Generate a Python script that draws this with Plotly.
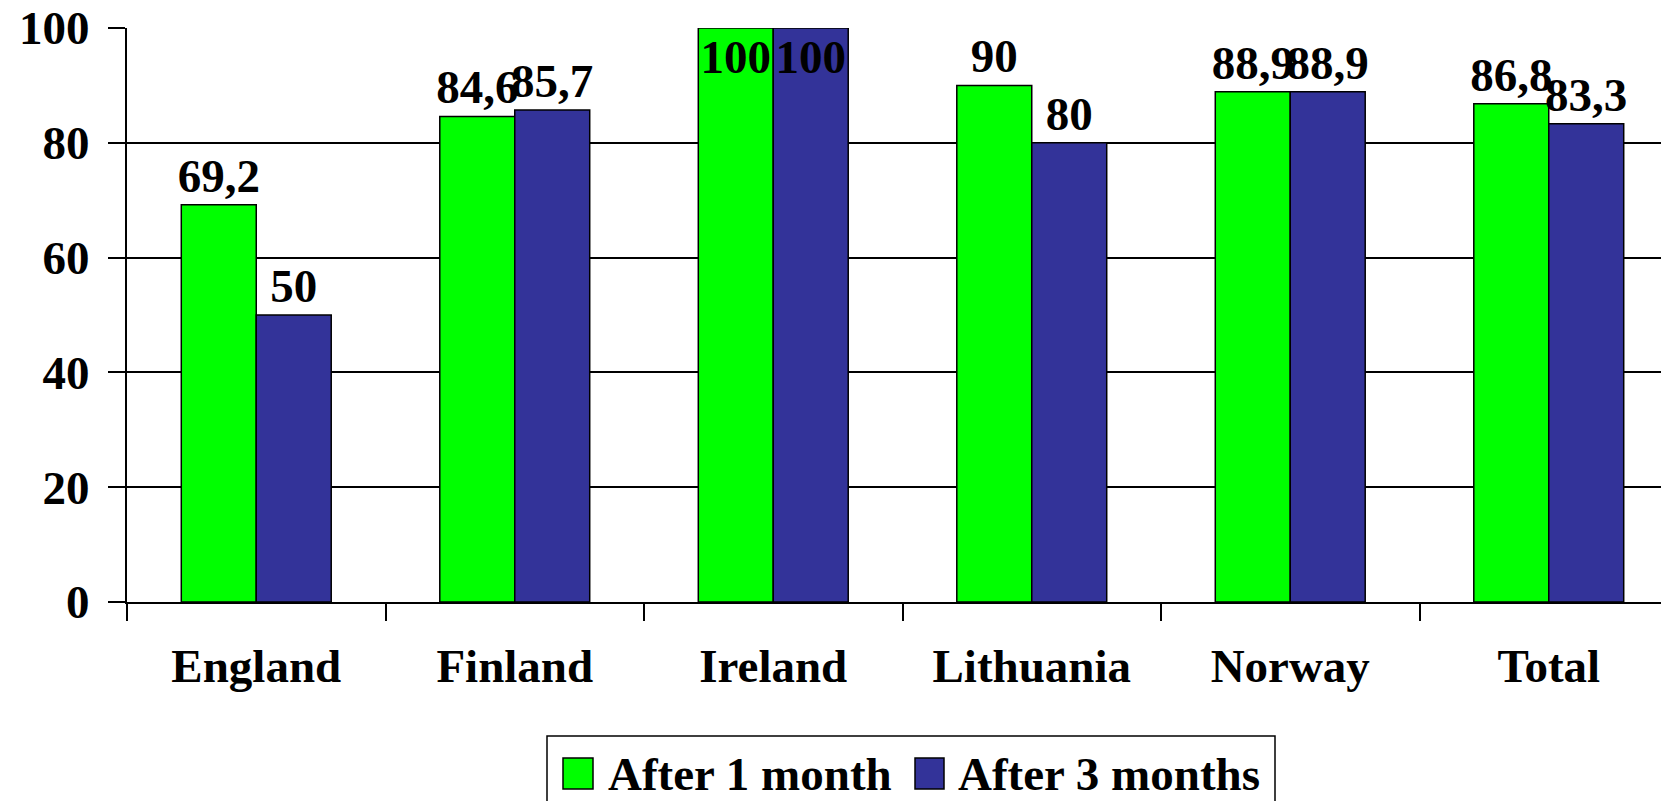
import plotly.graph_objects as go

categories = ["England", "Finland", "Ireland", "Lithuania", "Norway", "Total"]
after_1_month = [69.2, 84.6, 100, 90, 88.9, 86.8]
after_3_months = [50, 85.7, 100, 80, 88.9, 83.3]
series_names = ["After 1 month", "After 3 months"]
y_ticks = [0, 20, 40, 60, 80, 100]

GREEN = "#00FF00"
BLUE = "#333399"
FONT = "Liberation Serif"
FS = 47

W, H = 1661, 801
L, R, T, B = 127, 0, 28, 199
pw = W - L - R
ph = H - T - B
CAT_W = 258.5  # pixel width of one category in the reference (plot extends past the right edge)


def px_x(x):
    return (x - L) / pw


def px_y(y):
    return (H - B - y) / ph


def fmt(v):
    return ("%g" % v).replace(".", ",")


def positions(vals):
    return ["inside" if v >= 100 else "outside" for v in vals]


fig = go.Figure()
for name, vals, col in [(series_names[0], after_1_month, GREEN), (series_names[1], after_3_months, BLUE)]:
    fig.add_trace(go.Bar(
        x=categories, y=vals, name=name,
        marker=dict(color=col, line=dict(color="black", width=1.5)),
        text=[fmt(v) for v in vals],
        textposition=positions(vals),
        insidetextanchor="end",
        textangle=0,
        constraintext="none",
        textfont=dict(family=FONT, size=FS, color="black", weight="bold"),
        insidetextfont=dict(family=FONT, size=FS, color="black", weight="bold"),
        outsidetextfont=dict(family=FONT, size=FS, color="black", weight="bold"),
        cliponaxis=False,
        showlegend=False,
    ))

# manual legend (large swatches)
shapes = [
    dict(type="rect", xref="paper", yref="paper",
         x0=px_x(547), x1=px_x(1275), y0=px_y(815), y1=px_y(736),
         line=dict(color="black", width=1.5), fillcolor="white", layer="above"),
    dict(type="rect", xref="paper", yref="paper",
         x0=px_x(563), x1=px_x(593), y0=px_y(789), y1=px_y(758),
         line=dict(color="black", width=1.5), fillcolor=GREEN, layer="above"),
    dict(type="rect", xref="paper", yref="paper",
         x0=px_x(915), x1=px_x(944), y0=px_y(789), y1=px_y(758),
         line=dict(color="black", width=1.5), fillcolor=BLUE, layer="above"),
]
annotations = [
    dict(text=series_names[0], xref="paper", yref="paper", x=px_x(606), y=px_y(774),
         xanchor="left", yanchor="middle", showarrow=False,
         font=dict(family=FONT, size=FS, color="black", weight="bold")),
    dict(text=series_names[1], xref="paper", yref="paper", x=px_x(956), y=px_y(774),
         xanchor="left", yanchor="middle", showarrow=False,
         font=dict(family=FONT, size=FS, color="black", weight="bold")),
]

fig.update_layout(
    width=W, height=H,
    margin=dict(l=L, r=R, t=T, b=B, pad=0),
    paper_bgcolor="white", plot_bgcolor="white",
    barmode="group", bargap=0.42, bargroupgap=0,
    font=dict(family=FONT, size=FS, color="black", weight="bold"),
    showlegend=False,
    shapes=shapes,
    annotations=annotations,
)
fig.update_xaxes(
    range=[-0.5, -0.5 + pw / CAT_W],
    showline=True, linecolor="black", linewidth=2,
    ticks="outside", ticklen=17, tickwidth=1.5, tickcolor="black",
    tickson="boundaries", showgrid=False,
    tickfont=dict(family=FONT, size=FS, color="black", weight="bold"),
    ticklabelstandoff=22,
)
fig.update_yaxes(
    range=[0, 100], tickvals=y_ticks,
    showline=True, linecolor="black", linewidth=2,
    ticks="outside", ticklen=17, tickwidth=1.5, tickcolor="black",
    showgrid=True, gridcolor="black", gridwidth=1.5,
    zeroline=False,
    tickfont=dict(family=FONT, size=FS, color="black", weight="bold"),
    ticklabelstandoff=9,
)

fig.write_html("out.html")
